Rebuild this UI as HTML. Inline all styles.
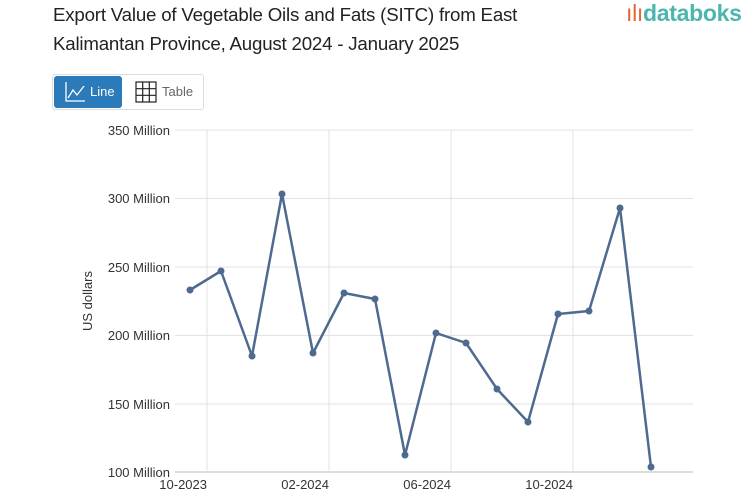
<!DOCTYPE html>
<html><head><meta charset="utf-8"><style>
body{margin:0;background:#fff;width:753px;height:498px;overflow:hidden;font-family:"Liberation Sans",sans-serif;}
.t{position:absolute;left:53px;top:0px;font-size:18.7px;line-height:29px;color:#222;letter-spacing:-0.2px}
.logo{position:absolute;left:626px;top:0px;font-size:23px;color:#4db6ac;font-weight:bold;letter-spacing:-0.3px}
.btns{position:absolute;left:52px;top:74px;width:150px;height:34px;border:1px solid #ddd;border-radius:3px}
.b1{position:absolute;left:1px;top:1px;width:68px;height:32px;background:#2b7bba;border-radius:3px;color:#fff;font-size:13px}
</style></head><body>
<div class="t">Export Value of Vegetable Oils and Fats (SITC) from East<br>Kalimantan Province, August 2024 - January 2025</div>
<div class="logo"><span style="color:#e8633a;font-weight:normal">ılı</span>databoks</div>
<div class="btns">
<div class="b1"><svg width="22" height="22" style="position:absolute;left:10px;top:5px"><polyline points="2,1 2,20 21,20" fill="none" stroke="#fff" stroke-width="1.3"/><polyline points="4,17 9,9 13,14 20,5" fill="none" stroke="#fff" stroke-width="1.3"/></svg><span style="position:absolute;left:36px;top:8px">Line</span></div>
<svg width="22" height="22" style="position:absolute;left:82px;top:6px"><rect x="1" y="1" width="20" height="20" fill="none" stroke="#222" stroke-width="1.2"/><path d="M1 7.7H21M1 14.3H21M7.7 1V21M14.3 1V21" stroke="#222" stroke-width="1.2"/></svg>
<span style="position:absolute;left:109px;top:9px;color:#666;font-size:13px">Table</span>
</div>
<svg width="753" height="498" style="position:absolute;left:0;top:0">
<g stroke="#e3e3e3" stroke-width="1">
<line x1="175" x2="693" y1="130" y2="130"/><line x1="175" x2="693" y1="198.5" y2="198.5"/><line x1="175" x2="693" y1="267" y2="267"/><line x1="175" x2="693" y1="335.5" y2="335.5"/><line x1="175" x2="693" y1="404" y2="404"/>
<line x1="207" x2="207" y1="130" y2="472"/><line x1="329" x2="329" y1="130" y2="472"/><line x1="451" x2="451" y1="130" y2="472"/><line x1="573" x2="573" y1="130" y2="472"/>
</g>
<line x1="175" x2="693" y1="472" y2="472" stroke="#ddd" stroke-width="2"/>
<g font-size="13" fill="#333" text-anchor="end">
<text x="170" y="135">350 Million</text><text x="170" y="203">300 Million</text><text x="170" y="272">250 Million</text><text x="170" y="340">200 Million</text><text x="170" y="409">150 Million</text><text x="170" y="477">100 Million</text>
<text x="207" y="489">10-2023</text><text x="329" y="489">02-2024</text><text x="451" y="489">06-2024</text><text x="573" y="489">10-2024</text>
</g>
<text transform="translate(92,301) rotate(-90)" font-size="13" fill="#333" text-anchor="middle">US dollars</text>
<g fill="#4f6a8f">
<polyline fill="none" stroke="#4f6a8f" stroke-width="2.5" stroke-linejoin="round" points="190,290 221,271 252,356 282,194 313,353 344,293 375,299 405,455 436,333 466,343 497,389 528,422 558,314 589,311 620,208 651,467"/>
<circle cx="190" cy="290" r="3.5"/><circle cx="221" cy="271" r="3.5"/><circle cx="252" cy="356" r="3.5"/><circle cx="282" cy="194" r="3.5"/><circle cx="313" cy="353" r="3.5"/><circle cx="344" cy="293" r="3.5"/><circle cx="375" cy="299" r="3.5"/><circle cx="405" cy="455" r="3.5"/><circle cx="436" cy="333" r="3.5"/><circle cx="466" cy="343" r="3.5"/><circle cx="497" cy="389" r="3.5"/><circle cx="528" cy="422" r="3.5"/><circle cx="558" cy="314" r="3.5"/><circle cx="589" cy="311" r="3.5"/><circle cx="620" cy="208" r="3.5"/><circle cx="651" cy="467" r="3.5"/>
</g>
</svg>
</body></html>
